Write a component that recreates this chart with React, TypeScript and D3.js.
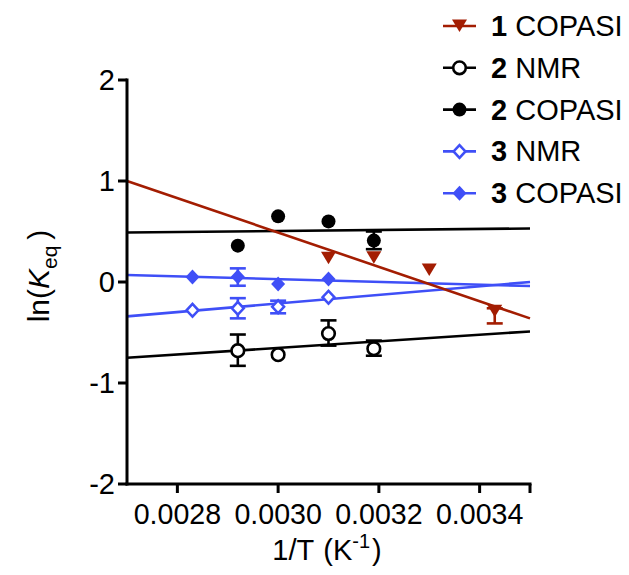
import React from "react";
import * as d3 from "d3";

// ---- data ----
const seriesBold = ["1", "2", "2", "3", "3"];
const seriesText = ["COPASI", "NMR", "COPASI", "NMR", "COPASI"];
const seriesColors = ["#a31d02", "#000000", "#000000", "#3f4ff7", "#3f4ff7"];
const seriesMarkers = ["triangleDown", "circleOpen", "circle", "diamondOpen", "diamond"];

const x1 = [0.0031, 0.00319, 0.0033, 0.00343];
const y1 = [0.235, 0.24, 0.12, -0.29];
const lo1 = [0, 0, 0, 0.12];
const hi1 = [0, 0, 0, 0.03];

const x2n = [0.00292, 0.003, 0.0031, 0.00319];
const y2n = [-0.68, -0.72, -0.51, -0.66];
const lo2n = [0.15, 0, 0.12, 0.07];
const hi2n = [0.16, 0, 0.13, 0.08];

const x2c = [0.00292, 0.003, 0.0031, 0.00319];
const y2c = [0.36, 0.65, 0.6, 0.41];
const lo2c = [0, 0, 0, 0.085];
const hi2c = [0, 0, 0, 0.09];

const x3n = [0.00283, 0.00292, 0.003, 0.0031];
const y3n = [-0.28, -0.26, -0.245, -0.15];
const lo3n = [0, 0.1, 0.065, 0];
const hi3n = [0, 0.1, 0.06, 0];

const x3c = [0.00283, 0.00292, 0.003, 0.0031];
const y3c = [0.05, 0.053, -0.02, 0.03];
const lo3c = [0, 0.09, 0, 0];
const hi3c = [0, 0.082, 0, 0];

// linear fit endpoints at x = 0.0027 and x = 0.0035
const fitStartY = [1.0, -0.75, 0.49, -0.34, 0.07];
const fitEndY = [-0.36, -0.49, 0.53, 0.0, -0.04];

const xTicks = [0.0028, 0.003, 0.0032, 0.0034];
const xTickLabels = ["0.0028", "0.0030", "0.0032", "0.0034"];
const yTicks = [-2, -1, 0, 1, 2];
const xDomain = [0.0027, 0.0035];
const yDomain = [-2, 2];

const FONT = "'Liberation Sans', Arial, Helvetica, sans-serif";

function markerPath(kind: string) {
  switch (kind) {
    case "triangleDown":
      return "M-7.5,-6.5 L7.5,-6.5 L0,6 Z";
    case "diamond":
    case "diamondOpen":
      return "M0,-7.5 L7,0 L0,7.5 L-7,0 Z";
    default:
      return "";
  }
}

function Marker({ kind, color, x, y }: { kind: string; color: string; x: number; y: number }) {
  if (kind === "circle") return <circle cx={x} cy={y} r={7} fill={color} />;
  if (kind === "circleOpen")
    return <circle cx={x} cy={y} r={6.3} fill="white" stroke={color} strokeWidth={2.6} />;
  if (kind === "diamondOpen")
    return (
      <path
        d={markerPath(kind)}
        transform={`translate(${x},${y}) scale(0.85)`}
        fill="white"
        stroke={color}
        strokeWidth={3}
      />
    );
  return <path d={markerPath(kind)} transform={`translate(${x},${y})`} fill={color} />;
}

export default function App() {
  const W = 629;
  const H = 575;
  const xS = d3.scaleLinear().domain(xDomain).range([127, 530]);
  const yS = d3.scaleLinear().domain(yDomain).range([484, 80]);

  const series = [
    { x: x1, y: y1, lo: lo1, hi: hi1 },
    { x: x2n, y: y2n, lo: lo2n, hi: hi2n },
    { x: x2c, y: y2c, lo: lo2c, hi: hi2c },
    { x: x3n, y: y3n, lo: lo3n, hi: hi3n },
    { x: x3c, y: y3c, lo: lo3c, hi: hi3c },
  ];

  const line = d3
    .line<[number, number]>()
    .x((d) => xS(d[0]))
    .y((d) => yS(d[1]));

  const drawOrder = [1, 2, 3, 4, 0];

  return (
    <svg
      width={W}
      height={H}
      style={{ position: "absolute", left: 0, top: 0, background: "white" }}
      fontFamily={FONT}
    >
      <rect width={W} height={H} fill="white" />
      {/* fit lines */}
      {drawOrder.map((i) => (
        <path
          key={"fit" + i}
          d={
            line([
              [xDomain[0], fitStartY[i]],
              [xDomain[1], fitEndY[i]],
            ]) || ""
          }
          stroke={seriesColors[i]}
          strokeWidth={2.6}
          fill="none"
        />
      ))}
      {/* error bars */}
      {drawOrder.map((i) =>
        series[i].x.map((xv, j) => {
          const lo = series[i].lo[j];
          const hi = series[i].hi[j];
          if (!lo && !hi) return null;
          const cx = xS(xv);
          const yTop = yS(series[i].y[j] + hi);
          const yBot = yS(series[i].y[j] - lo);
          return (
            <g key={`eb${i}-${j}`} stroke={seriesColors[i]} strokeWidth={2.6}>
              <line x1={cx} x2={cx} y1={yTop} y2={yBot} />
              <line x1={cx - 8} x2={cx + 8} y1={yTop} y2={yTop} />
              <line x1={cx - 8} x2={cx + 8} y1={yBot} y2={yBot} />
            </g>
          );
        })
      )}
      {/* markers */}
      {drawOrder.map((i) =>
        series[i].x.map((xv, j) => (
          <Marker
            key={`m${i}-${j}`}
            kind={seriesMarkers[i]}
            color={seriesColors[i]}
            x={xS(xv)}
            y={yS(series[i].y[j])}
          />
        ))
      )}

      {/* y axis */}
      <line x1={127} x2={127} y1={yS(2) - 1.5} y2={yS(-2) + 1.5} stroke="black" strokeWidth={3} />
      {yTicks.map((t) => (
        <g key={"yt" + t}>
          <line x1={118} x2={127} y1={yS(t)} y2={yS(t)} stroke="black" strokeWidth={3} />
          <text x={115} y={yS(t) + 10} textAnchor="end" fontSize={29} fill="black">
            {t}
          </text>
        </g>
      ))}
      {/* x axis */}
      <line x1={125.5} x2={xS(xDomain[1]) + 1.5} y1={484} y2={484} stroke="black" strokeWidth={3} />
      {[...xTicks, xDomain[1]].map((t, k) => (
        <line key={"xt" + k} x1={xS(t)} x2={xS(t)} y1={484} y2={493} stroke="black" strokeWidth={3} />
      ))}
      {xTicks.map((t, k) => (
        <text key={"xl" + k} x={xS(t)} y={524} textAnchor="middle" fontSize={28.6} fill="black">
          {xTickLabels[k]}
        </text>
      ))}

      {/* axis titles */}
      <text x={327} y={560} textAnchor="middle" fontSize={29} fill="black">
        1/T
        <tspan dx={9}>(K</tspan>
        <tspan dy={-12} fontSize={20}>
          -1
        </tspan>
        <tspan dy={12} dx={2}>)</tspan>
      </text>
      <text transform="translate(49,276) rotate(-90)" textAnchor="middle" fontSize={30} fill="black">
        ln(
        <tspan fontStyle="italic">K</tspan>
        <tspan dy={8} fontSize={21}>
          eq
        </tspan>
        <tspan dy={-8} dx={6}>)</tspan>
      </text>

      {/* legend */}
      {seriesBold.map((b, i) => {
        const cy = 26 + i * 41.8;
        return (
          <g key={"lg" + i}>
            <line x1={443} x2={476} y1={cy} y2={cy} stroke={seriesColors[i]} strokeWidth={2.6} />
            <Marker kind={seriesMarkers[i]} color={seriesColors[i]} x={459.5} y={cy} />
            <text x={491} y={cy + 10} fontSize={29} fill="black">
              <tspan fontWeight="bold">{b}</tspan> {seriesText[i]}
            </text>
          </g>
        );
      })}
    </svg>
  );
}
